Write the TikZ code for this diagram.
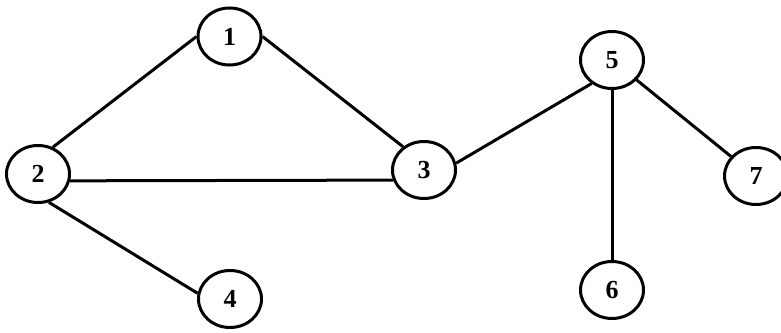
\documentclass[tikz,border=0pt]{standalone}
\usepackage{fontspec}
\setmainfont{Liberation Serif}
\usepackage{tikz}
\usetikzlibrary{shapes,shapes.geometric}

\tikzset{vertex/.style={draw,ellipse,line width=3pt,inner sep=0pt,
		minimum width=63pt,minimum height=57pt,
		font=\fontsize{26}{26}\selectfont\bfseries}}

\begin{document}
\begin{tikzpicture}[x=1pt,y=-1pt,line width=3pt]
			\useasboundingbox (0,0) rectangle (781,332);
			\node[vertex] (n1) at (229.5,36.5) {1};
			\node[vertex] (n2) at (38,174) {2};
			\node[vertex] (n3) at (424,170) {3};
			\node[vertex] (n4) at (230,299) {4};
			\node[vertex] (n5) at (612,60) {5};
			\node[vertex] (n6) at (612,290) {6};
			\node[vertex] (n7) at (756,176) {7};
			\draw [] (n2.61)-- (n1.180);
			\draw [] (n1.0)-- (n3.132);
			\draw [] (n2.-12)-- (n3.-162);
			\draw [] (n2.-69)-- (n4.170);
			\draw [] (n3.12)-- (n5.-131);
			\draw [] (n5.south)-- (n6.north);
			\draw [] (n5.-39)-- (n7.142);
		\end{tikzpicture}
\end{document}
